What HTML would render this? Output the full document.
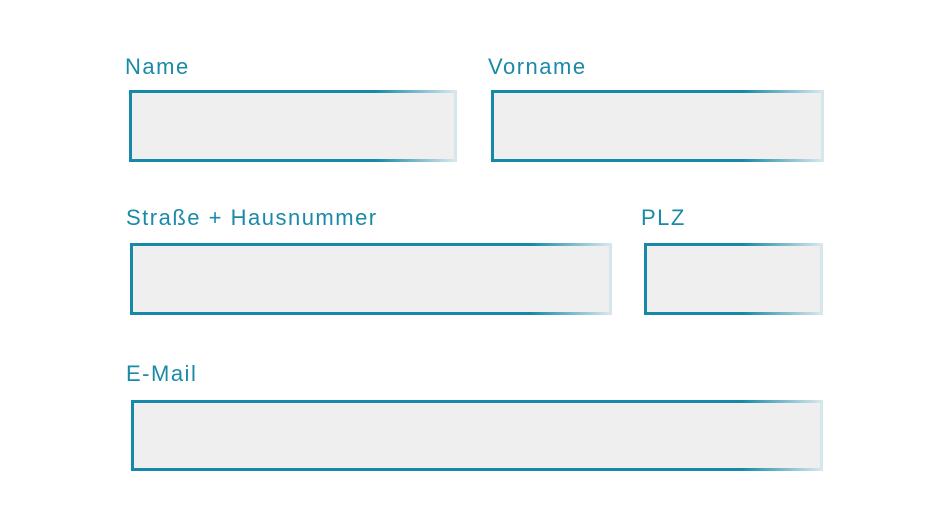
<!DOCTYPE html>
<html><head><style>
body{margin:0;width:950px;height:526px;background:#fff;position:relative;overflow:hidden;font-family:"Liberation Sans",sans-serif}
.l{position:absolute;color:#1a8aa8;font-size:22px;line-height:26px;letter-spacing:1.5px}
.b{position:absolute;box-sizing:border-box;background:#efefef;border:3px solid;border-image:linear-gradient(to right,#1689a8 0%,#1689a8 calc(100% - 80px),#d6e7ec 100%) 1}
</style></head><body>
<div class="l" style="left:125px;top:54px">Name</div>
<div class="b" style="left:129px;top:90px;width:328px;height:72px"></div>
<div class="l" style="left:488px;top:54px">Vorname</div>
<div class="b" style="left:491px;top:90px;width:333px;height:72px"></div>
<div class="l" style="left:126px;top:205px">Straße + Hausnummer</div>
<div class="b" style="left:130px;top:243px;width:482px;height:72px"></div>
<div class="l" style="left:641px;top:205px">PLZ</div>
<div class="b" style="left:644px;top:243px;width:179px;height:72px"></div>
<div class="l" style="left:126px;top:361px">E-Mail</div>
<div class="b" style="left:131px;top:400px;width:692px;height:71px"></div>
</body></html>
